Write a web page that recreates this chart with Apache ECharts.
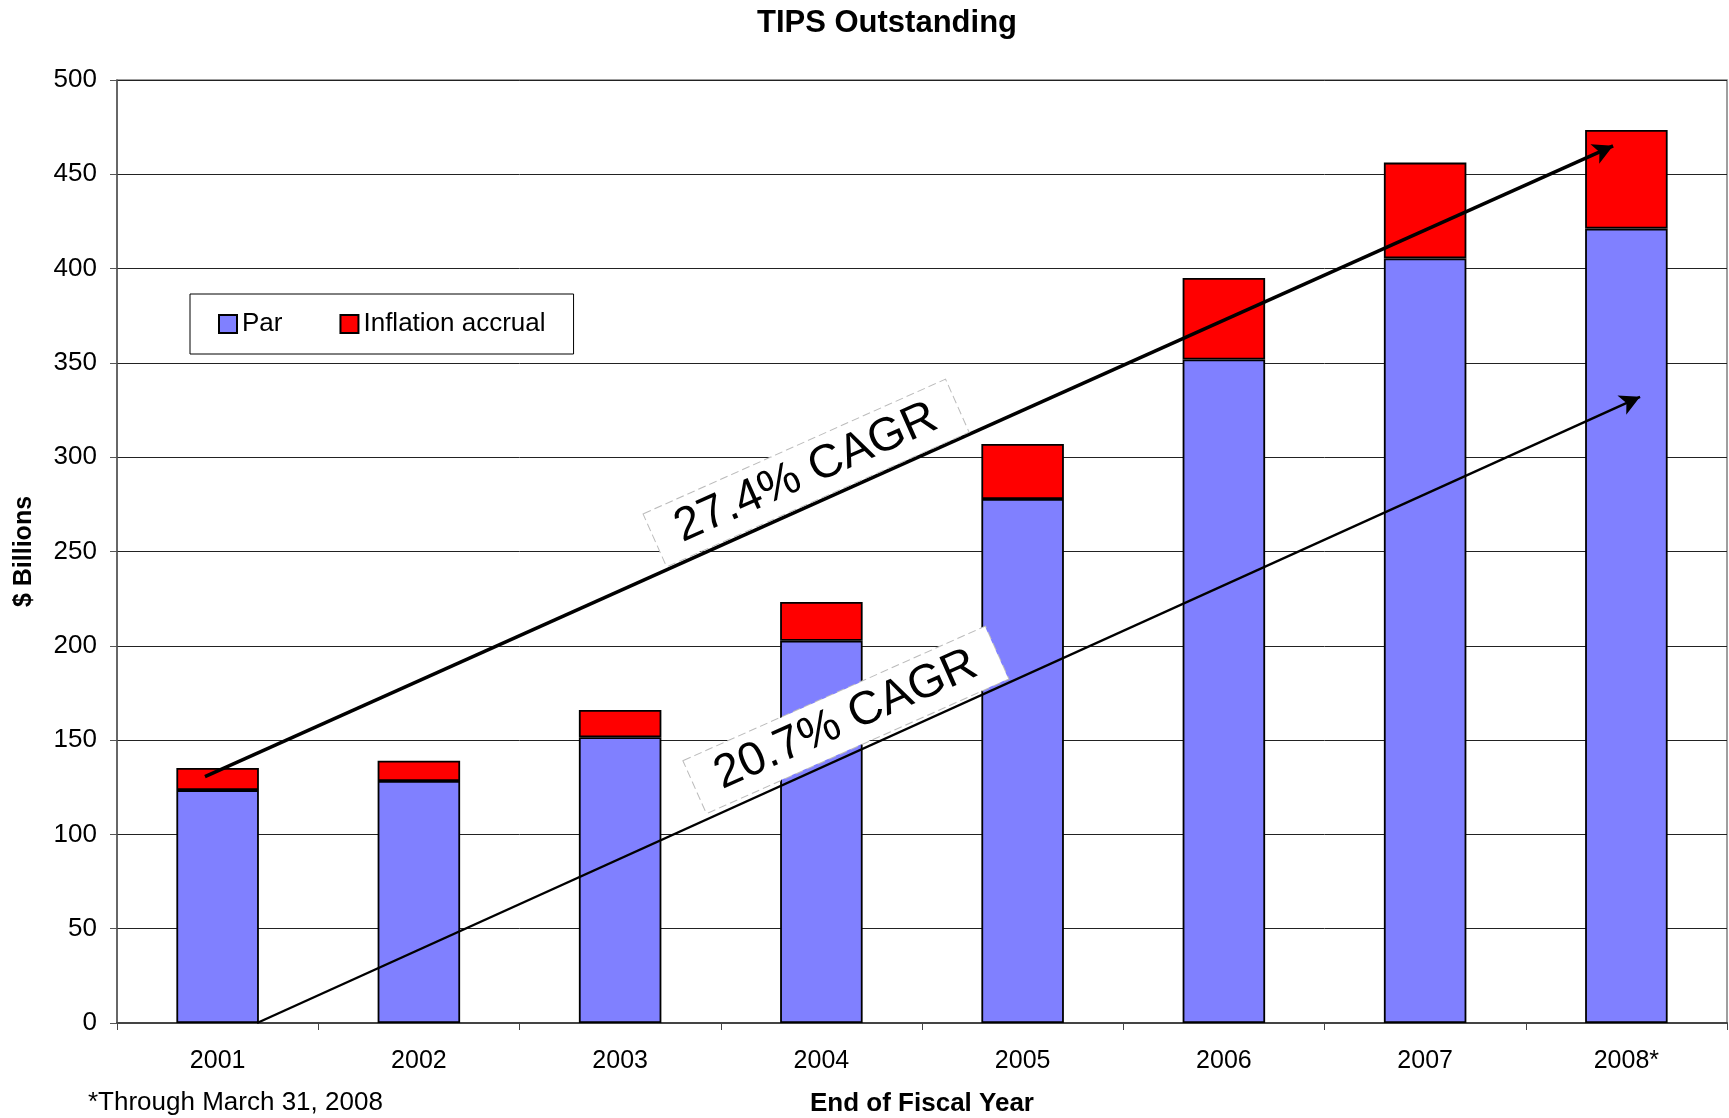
<!DOCTYPE html>
<html>
<head>
<meta charset="utf-8">
<title>TIPS Outstanding</title>
<script src="https://cdn.jsdelivr.net/npm/echarts@6/dist/echarts.min.js"></script>
<style>
  html, body { margin: 0; padding: 0; background: #fff; }
  #chart { width: 1729px; height: 1118px; }
</style>
</head>
<body>
<div id="chart"></div>
<script>
const years = ['2001', '2002', '2003', '2004', '2005', '2006', '2007', '2008*'];
const par = [123.5, 128.3, 151.5, 202.7, 277.8, 351.8, 405.4, 421.2];
const inflation = [11.7, 10.8, 14.5, 20.5, 29.2, 43.2, 50.8, 52.3];

// trend arrows, x in category units (0 = centre of the first bar), y in $ billions
const upperArrow = [[-0.063, 130.6], [6.934, 465.1]];
const lowerArrow = [[0.196, 0], [7.068, 332.0]];
const cagrTexts = ['27.4% CAGR', '20.7% CAGR'];
const cagrAt = [[2.924, 291.6], [3.122, 160.7]];

const font = '"Liberation Sans", Arial, sans-serif';

const chart = echarts.init(document.getElementById('chart'));

const cagrLabel = (text, at) => ({
  coord: at,
  symbol: 'rect',
  symbolSize: 1,
  itemStyle: { color: 'rgba(0,0,0,0)' },
  label: {
    show: true,
    position: 'inside',
    formatter: text,
    rotate: 24,
    color: '#000',
    fontFamily: font,
    fontSize: 47,
    backgroundColor: '#fff',
    borderColor: '#bbb',
    borderWidth: 1,
    borderType: 'dashed',
    padding: [5, 24]
  }
});

const option = {
  animation: false,
  textStyle: { fontFamily: font },
  title: {
    text: 'TIPS Outstanding',
    left: 882,
    top: 3,
    textAlign: 'center',
    textStyle: { fontSize: 31, fontWeight: 'bold', color: '#000', fontFamily: font }
  },
  legend: {
    left: 190,
    top: 294,
    orient: 'horizontal',
    data: ['Par', 'Inflation accrual'],
    itemWidth: 18,
    itemHeight: 18,
    itemGap: 57,
    icon: 'rect',
    padding: [17, 28, 17, 28],
    borderColor: '#000',
    borderWidth: 1,
    textStyle: { fontSize: 26, color: '#000', fontFamily: font }
  },
  grid: {
    left: 117,
    right: 2,
    top: 80,
    bottom: 95,
    outerBoundsMode: 'none',
    show: true,
    borderColor: '#808080',
    borderWidth: 1.5
  },
  xAxis: [
    {
      type: 'category',
      data: years,
      name: 'End of Fiscal Year',
      nameLocation: 'middle',
      nameGap: 68,
      nameTextStyle: { fontSize: 26, fontWeight: 'bold', color: '#000', fontFamily: font },
      axisLine: { lineStyle: { color: '#444', width: 2 } },
      axisTick: { show: true, length: 7, lineStyle: { color: '#444' } },
      axisLabel: { fontSize: 25, color: '#000', margin: 26, fontFamily: font }
    },
    {
      type: 'value',
      min: -0.5,
      max: 7.5,
      show: false
    }
  ],
  yAxis: {
    type: 'value',
    min: 0,
    max: 500,
    interval: 50,
    name: '$ Billions',
    nameLocation: 'middle',
    nameGap: 80,
    nameTextStyle: { fontSize: 25, fontWeight: 'bold', color: '#000', fontFamily: font },
    axisLine: { show: true, onZero: false, lineStyle: { color: '#555', width: 1.5 } },
    axisTick: { show: true, length: 7, lineStyle: { color: '#555' } },
    axisLabel: { fontSize: 26, color: '#000', margin: 20, fontFamily: font },
    splitLine: { lineStyle: { color: '#222', width: 1 } }
  },
  series: [
    {
      name: 'Par',
      type: 'bar',
      stack: 'total',
      barWidth: '41%',
      data: par,
      itemStyle: { color: '#8080FF', borderColor: '#000', borderWidth: 1.8 }
    },
    {
      name: 'Inflation accrual',
      type: 'bar',
      stack: 'total',
      barWidth: '41%',
      data: inflation,
      itemStyle: { color: '#FF0000', borderColor: '#000', borderWidth: 1.8 }
    },
    {
      name: 'trend',
      type: 'line',
      xAxisIndex: 1,
      yAxisIndex: 0,
      data: [],
      clip: false,
      markLine: {
        silent: true,
        symbol: ['none', 'arrow'],
        symbolSize: [16, 20],
        label: { show: false },
        data: [
          [
            { coord: upperArrow[0], lineStyle: { color: '#000', width: 3.5, type: 'solid' } },
            { coord: upperArrow[1] }
          ],
          [
            { coord: lowerArrow[0], lineStyle: { color: '#000', width: 2.4, type: 'solid' } },
            { coord: lowerArrow[1] }
          ]
        ]
      },
      markPoint: {
        silent: true,
        data: [cagrLabel(cagrTexts[0], cagrAt[0]), cagrLabel(cagrTexts[1], cagrAt[1])]
      }
    }
  ],
  graphic: [
    {
      type: 'text',
      left: 88,
      top: 1090,
      style: { text: '*Through March 31, 2008', fontSize: 26, fill: '#000', fontFamily: font }
    }
  ]
};

chart.setOption(option);
</script>
</body>
</html>
